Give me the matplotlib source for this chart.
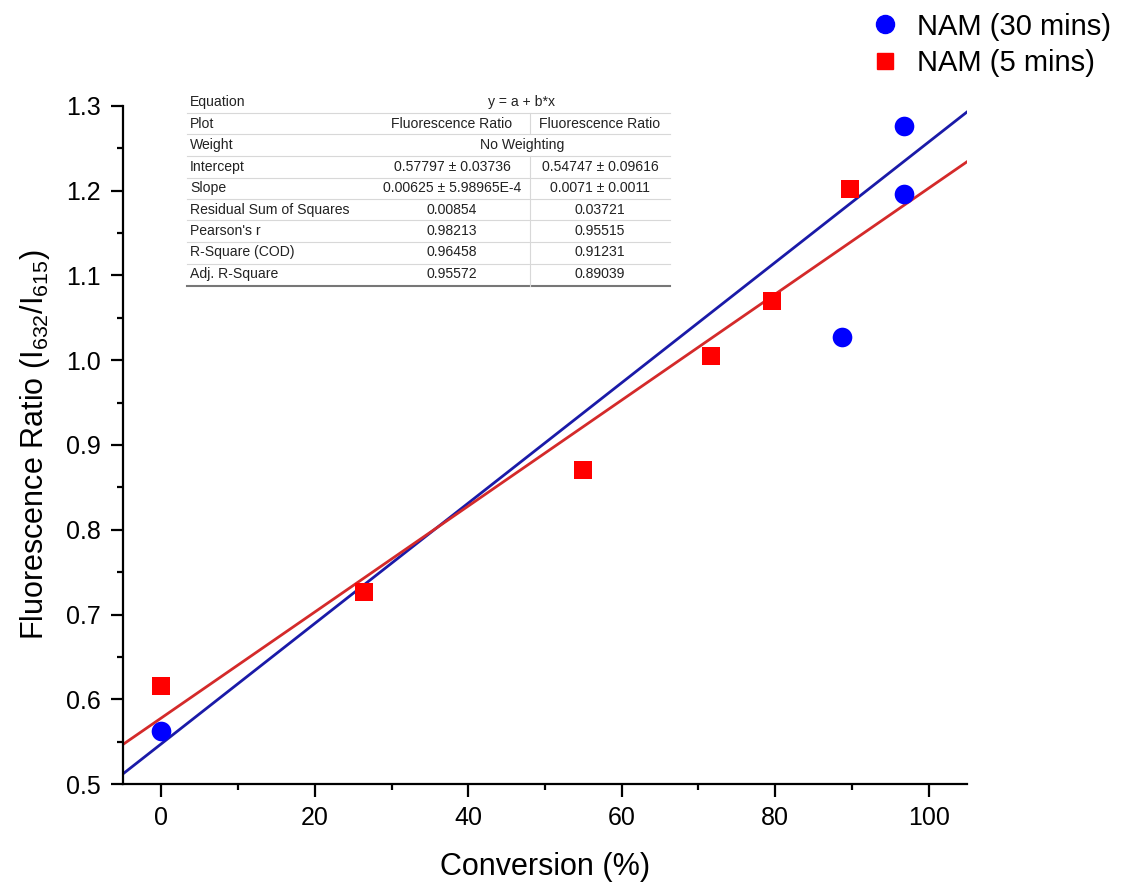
import matplotlib
matplotlib.use("Agg")
import matplotlib.pyplot as plt
import numpy as np
from matplotlib.lines import Line2D

plt.rcParams['font.family'] = ['Liberation Sans', 'DejaVu Sans']
plt.rcParams['mathtext.default'] = 'regular'

# Data
x_30 = [0, 88.7, 96.8, 96.8]
y_30 = [0.562, 1.027, 1.196, 1.276]
x_5 = [0, 26.4, 54.9, 71.6, 79.6, 89.7]
y_5 = [0.616, 0.727, 0.871, 1.005, 1.070, 1.202]

# Linear fit parameters (y = a + b*x)
fit_5 = (0.57797, 0.00625)
fit_30 = (0.54747, 0.0071)

series_labels = ['NAM (30 mins)', 'NAM (5 mins)']

table_labels = ['Equation', 'Plot', 'Weight', 'Intercept', 'Slope',
                'Residual Sum of Squares', "Pearson's r", 'R-Square (COD)',
                'Adj. R-Square']
table_col1 = ['y = a + b*x', 'Fluorescence Ratio', 'No Weighting',
              '0.57797 ± 0.03736', '0.00625 ± 5.98965E-4', '0.00854',
              '0.98213', '0.96458', '0.95572']
table_col2 = [None, 'Fluorescence Ratio', None, '0.54747 ± 0.09616',
              '0.0071 ± 0.0011', '0.03721', '0.95515', '0.91231', '0.89039']

W, H = 1121, 888
fig = plt.figure(figsize=(W / 100, H / 100), dpi=100)
L, R, T, B = 123, 967, 106, 784
ax = fig.add_axes([L / W, 1 - B / H, (R - L) / W, (B - T) / H])

xs = np.array([-5, 105])
ax.plot(xs, fit_30[0] + fit_30[1] * xs, color='#1a1aa8', lw=2, zorder=2)
ax.plot(xs, fit_5[0] + fit_5[1] * xs, color='#d42a2a', lw=2, zorder=2)
ax.scatter(x_30, y_30, s=200, marker='o', color='#0000ff', zorder=3, linewidths=0)
ax.scatter(x_5, y_5, s=170, marker='s', color='#ff0000', zorder=3, linewidths=0)

ax.set_xlim(-5, 105)
ax.set_ylim(0.5, 1.3)
ax.set_xticks([0, 20, 40, 60, 80, 100])
ax.set_xticks(np.arange(10, 101, 20), minor=True)
ax.set_yticks(np.round(np.arange(0.5, 1.31, 0.1), 1))
ax.set_yticks(np.arange(0.55, 1.3, 0.1), minor=True)
ax.set_yticklabels([f'{v:.1f}' for v in np.arange(0.5, 1.31, 0.1)])

for s in ['top', 'right']:
    ax.spines[s].set_visible(False)
for s in ['left', 'bottom']:
    ax.spines[s].set_linewidth(1.6)
ax.tick_params(which='major', direction='out', length=9, width=1.6, labelsize=18, pad=7)
ax.tick_params(which='minor', direction='out', length=4.5, width=1.6)

ax.set_xlabel('Conversion (%)', fontsize=22, labelpad=16)
ax.set_ylabel('Fluorescence Ratio (I$_{632}$/I$_{615}$)', fontsize=22, labelpad=10)

# Legend above the plot area
handles = [Line2D([], [], marker='o', ls='', color='#0000ff', markersize=13),
           Line2D([], [], marker='s', ls='', color='#ff0000', markersize=12)]
fig.legend(handles, series_labels, loc='upper left',
           bbox_to_anchor=(856 / W, 1 - 1 / H), frameon=False, fontsize=21,
           handletextpad=0.5, labelspacing=0.3, borderaxespad=0, handlelength=1.2)


def px(x, y):
    return x / W, 1 - y / H


# Fit statistics table
tl, tr = 187, 670
row_y = [102, 124, 145, 167, 188, 210, 231, 252, 274]
sep_y = [113.5, 134.5, 156, 177.5, 199, 220.5, 242, 263.5]
bottom_y = 286.5
c1, c2, div = 452, 600, 530
fs = 10.1
for i, lab in enumerate(table_labels):
    fig.text(*px(190, row_y[i]), lab, fontsize=fs, va='center', ha='left', color='#222222')
    if table_col2[i] is None:
        fig.text(*px(522, row_y[i]), table_col1[i], fontsize=fs, va='center', ha='center', color='#222222')
    else:
        fig.text(*px(c1, row_y[i]), table_col1[i], fontsize=fs, va='center', ha='center', color='#222222')
        fig.text(*px(c2, row_y[i]), table_col2[i], fontsize=fs, va='center', ha='center', color='#222222')
for y in sep_y:
    fig.add_artist(Line2D([tl / W, tr / W], [1 - y / H, 1 - y / H], color='#d8d8d8', lw=0.8))
fig.add_artist(Line2D([tl / W, tr / W], [1 - bottom_y / H] * 2, color='#777777', lw=1.5))
for y0, y1 in [(sep_y[0], sep_y[1]), (sep_y[2], bottom_y)]:
    fig.add_artist(Line2D([div / W, div / W], [1 - y0 / H, 1 - y1 / H], color='#d8d8d8', lw=0.8))

fig.savefig('out.png', dpi=100)
